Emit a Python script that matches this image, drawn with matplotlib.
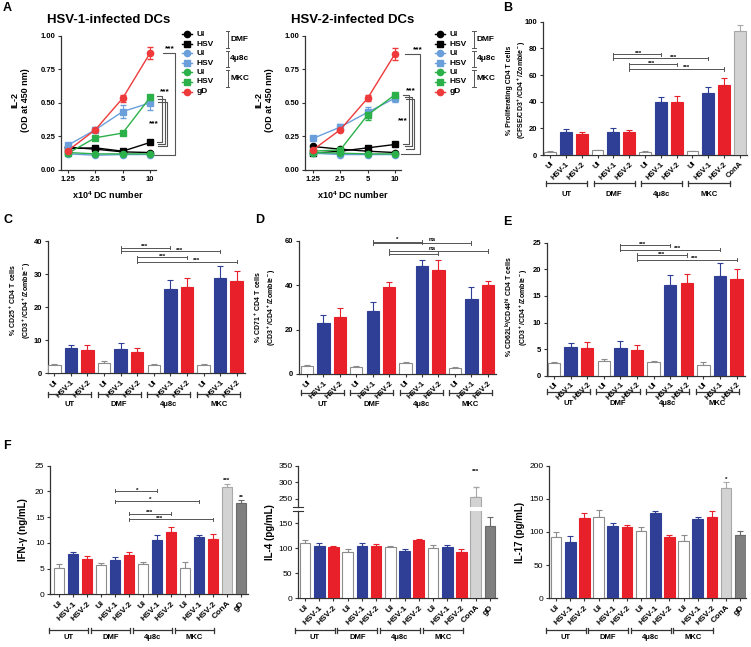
import matplotlib
matplotlib.use('Agg')
import matplotlib.pyplot as plt
import numpy as np
from matplotlib.lines import Line2D

plt.rcParams['font.family'] = ['Liberation Sans', 'DejaVu Sans']
plt.rcParams['font.weight'] = 'bold'
plt.rcParams['mathtext.fontset'] = 'custom'
plt.rcParams['mathtext.rm'] = 'Liberation Sans:bold'
plt.rcParams['mathtext.bf'] = 'Liberation Sans:bold'
plt.rcParams['mathtext.it'] = 'Liberation Sans:bold'
plt.rcParams['mathtext.default'] = 'bf'

W, H = 751, 647

# ---------------- data ----------------
doses = ['1.25', '2.5', '5', '10']

# A - HSV-1-infected DCs (IL-2, OD 450 nm)
dmf_ui_1 = [0.17, 0.155, 0.135, 0.13]
dmf_hsv_1 = [0.16, 0.165, 0.14, 0.205]
i48_ui_1 = [0.12, 0.11, 0.115, 0.115]
i48_hsv_1 = [0.185, 0.30, 0.435, 0.50]
mkc_ui_1 = [0.13, 0.12, 0.12, 0.12]
mkc_hsv_1 = [0.125, 0.24, 0.275, 0.54]
gd_1 = [0.145, 0.30, 0.535, 0.87]
i48_hsv_1_err = [0.01, 0.02, 0.05, 0.05]
gd_1_err = [0.01, 0.01, 0.025, 0.045]

# A - HSV-2-infected DCs
dmf_ui_2 = [0.175, 0.155, 0.14, 0.13]
dmf_hsv_2 = [0.125, 0.14, 0.165, 0.19]
i48_ui_2 = [0.125, 0.115, 0.115, 0.115]
i48_hsv_2 = [0.235, 0.32, 0.43, 0.535]
mkc_ui_2 = [0.13, 0.125, 0.12, 0.12]
mkc_hsv_2 = [0.14, 0.15, 0.41, 0.56]
gd_2 = [0.15, 0.30, 0.535, 0.865]
i48_hsv_2_err = [0.015, 0.02, 0.04, 0.03]
mkc_hsv_2_err = [0.005, 0.01, 0.04, 0.01]
gd_2_err = [0.01, 0.01, 0.02, 0.045]

bar_labels = ['UI', 'HSV-1', 'HSV-2'] * 4
groups = ['UT', 'DMF', '4\u03bc8c', 'MKC']

# B - % proliferating CD4 T cells (last = ConA)
prolif = [2.5, 17.5, 16, 3.5, 17.5, 17.5, 2.5, 40, 39.5, 3, 46.5, 52.5, 93]
prolif_err = [0.4, 2, 1.5, 0.6, 2.5, 1.2, 0.4, 3.5, 4.5, 0.3, 4.5, 5.5, 4.5]

# C - % CD25+ CD4 T cells
cd25 = [2.5, 7.5, 7.1, 3.0, 7.4, 6.5, 2.6, 25.4, 26.2, 2.5, 28.8, 27.9]
cd25_err = [0.4, 1.2, 1.4, 0.6, 1.7, 1.1, 0.3, 2.9, 2.5, 0.3, 3.5, 3.0]

# D - % CD71+ CD4 T cells
cd71 = [3.8, 23, 25.5, 3.2, 28.5, 39.3, 4.8, 48.7, 46.7, 2.9, 33.7, 40]
cd71_err = [0.4, 3.5, 4.0, 0.6, 4.0, 1.9, 0.4, 2.8, 4.8, 0.4, 5.3, 1.7]

# E - % CD62Llo/CD44hi CD4 T cells
cd62 = [2.3, 5.4, 5.3, 2.7, 5.3, 4.8, 2.6, 17.1, 17.5, 2.1, 18.7, 18.1]
cd62_err = [0.2, 0.8, 1.0, 0.5, 1.2, 0.9, 0.2, 1.9, 1.7, 0.4, 2.4, 2.0]

# F - cytokines (last two = ConA, gD)
ifng = [5.1, 7.8, 6.9, 5.6, 6.6, 7.6, 5.8, 10.5, 12.1, 5.2, 11.1, 10.7, 20.8, 17.7]
ifng_err = [0.7, 0.5, 0.5, 0.4, 0.6, 0.6, 0.5, 1.0, 0.9, 1.0, 0.5, 1.1, 0.7, 0.6]
il4 = [111, 105, 102, 93, 105, 104, 103, 95, 117, 101, 103, 93, 255, 145]
il4_err = [6, 5, 3, 6, 6, 5, 1, 3, 1, 5, 4, 5, 31, 17]
il17 = [93, 85, 121, 122, 109, 107, 101, 129, 92, 86, 120, 122, 167, 96]
il17_err = [7, 9, 7, 11, 4, 4, 6, 3, 3, 10, 3, 9, 8, 6]

# ---------------- styling ----------------
BLUE = '#2E3F95'
RED = '#E8202A'
LBLUE = '#6A9FDB'
GREEN = '#2BB04A'
LRED = '#EE3A3A'
AX = '#333333'

fig = plt.figure(figsize=(W / 100, H / 100), dpi=100)


def axes_px(l, t, r, b):
    ax = fig.add_axes([l / W, 1 - b / H, (r - l) / W, (b - t) / H])
    ax.px = (l, t, r, b)
    return ax


def afy(ax, py):
    l, t, r, b = ax.px
    return (b - py) / (b - t)


def ftext(x, y, s, **kw):
    fig.text(x / W, 1 - y / H, s, **kw)


def style(ax, size=5.5, bold=True):
    for s in ['top', 'right']:
        ax.spines[s].set_visible(False)
    for s in ['left', 'bottom']:
        ax.spines[s].set_color(AX)
        ax.spines[s].set_linewidth(0.9)
    ax.tick_params(length=2.5, width=0.8, color=AX, labelsize=size, pad=1.5)
    for lab in ax.get_yticklabels():
        lab.set_fontweight('bold' if bold else 'normal')


# ---------- panel A ----------
def line_panel(l, t, r, b, xl, sets, title):
    ax = axes_px(l, t, r, b)
    x = np.arange(len(doses))
    for vals, err, col, mk in sets:
        ax.errorbar(x, vals, yerr=err, color=col, marker=mk, ms=4.5, lw=1,
                    capsize=2, elinewidth=0.8, clip_on=False)
    ax.set_xlim(*xl)
    ax.set_ylim(0, 1.0)
    ax.set_yticks([0, 0.25, 0.5, 0.75, 1.0])
    ax.set_yticklabels(['0.00', '0.25', '0.50', '0.75', '1.00'])
    ax.set_xticks(x)
    ax.set_xticklabels(doses, fontweight='bold')
    style(ax, 5.5)
    ax.set_xlabel('x10$^4$ DC number', fontsize=6.5, fontweight='bold', labelpad=5)
    ax.set_title(title, fontsize=9.5, fontweight='bold', pad=9)
    return ax


def bracket_a(ax, x, y1, y2, xs1, xs2):
    ax.plot([xs1, x, x, xs2], [y1, y1, y2, y2], color='#555555', lw=0.8,
            clip_on=False)


sets1 = [(dmf_ui_1, 0.005, 'black', 'o'), (dmf_hsv_1, 0.005, 'black', 's'),
         (i48_ui_1, 0.005, LBLUE, 'o'), (i48_hsv_1, i48_hsv_1_err, LBLUE, 's'),
         (mkc_ui_1, 0.005, GREEN, 'o'), (mkc_hsv_1, 0.01, GREEN, 's'),
         (gd_1, gd_1_err, LRED, 'o')]
axA1 = line_panel(61.2, 35.7, 155.5, 170, (-0.25, 3.2), sets1, 'HSV-1-infected DCs')
bracket_a(axA1, 3.92, 0.87, 0.115, 3.48, 3.1)
bracket_a(axA1, 3.44, 0.55, 0.205, 3.25, 3.25)
bracket_a(axA1, 3.53, 0.53, 0.19, 3.3, 3.3)
bracket_a(axA1, 3.62, 0.51, 0.175, 3.3, 3.3)
axA1.text(3.72, 0.875, '***', fontsize=6, ha='center', va='bottom')
axA1.text(3.55, 0.555, '***', fontsize=6, ha='center', va='bottom')
axA1.text(3.15, 0.32, '***', fontsize=6, ha='center', va='bottom')

sets2 = [(dmf_ui_2, 0.005, 'black', 'o'), (dmf_hsv_2, 0.005, 'black', 's'),
         (i48_ui_2, 0.005, LBLUE, 'o'), (i48_hsv_2, i48_hsv_2_err, LBLUE, 's'),
         (mkc_ui_2, 0.005, GREEN, 'o'), (mkc_hsv_2, mkc_hsv_2_err, GREEN, 's'),
         (gd_2, gd_2_err, LRED, 'o')]
axA2 = line_panel(305, 35.7, 400.5, 170, (-0.29, 3.2), sets2, 'HSV-2-infected DCs')
bracket_a(axA2, 3.93, 0.865, 0.12, 3.37, 3.2)
bracket_a(axA2, 3.51, 0.56, 0.19, 3.3, 3.3)
bracket_a(axA2, 3.61, 0.545, 0.175, 3.35, 3.35)
bracket_a(axA2, 3.70, 0.53, 0.16, 3.4, 3.4)
axA2.text(3.82, 0.87, '***', fontsize=6, ha='center', va='bottom')
axA2.text(3.59, 0.565, '***', fontsize=6, ha='center', va='bottom')
axA2.text(3.27, 0.34, '***', fontsize=6, ha='center', va='bottom')

for xc in (20, 264):
    ftext(xc, 100, 'IL-2\n(OD at 450 nm)', rotation=90, ha='center', va='center',
          fontsize=6.5, fontweight='bold', linespacing=1.3)

# legends of panel A
leg_rows = [34.3, 44.3, 53.3, 63.3, 72.3, 81.7, 91.7]
leg_items = [('black', 'o', 'UI'), ('black', 's', 'HSV'), (LBLUE, 'o', 'UI'),
             (LBLUE, 's', 'HSV'), (GREEN, 'o', 'UI'), (GREEN, 's', 'HSV'),
             (LRED, 'o', 'gD')]
for xm, xb in ((186.7, 227.7), (440, 474)):
    for yy, (col, mk, lab) in zip(leg_rows, leg_items):
        fig.add_artist(Line2D([(xm - 5) / W, (xm + 5) / W], [1 - yy / H] * 2,
                              color=col, lw=1))
        fig.add_artist(Line2D([xm / W], [1 - yy / H], color=col, marker=mk, ms=4.5))
        ftext(xm + 10, yy, lab, fontsize=6, fontweight='bold', va='center')
    for (y1, y2), g in zip(((30.7, 47.5), (50.5, 67), (70, 87)), ['DMF', '4\u03bc8c', 'MKC']):
        fig.add_artist(Line2D([xb / W] * 2, [1 - y1 / H, 1 - y2 / H], color='#555555', lw=0.7))
        for yy in (y1, y2):
            fig.add_artist(Line2D([(xb - 1.5) / W, (xb + 1.5) / W], [1 - yy / H] * 2,
                                  color='#555555', lw=0.7))
        ftext(xb + 2.5, (y1 + y2) / 2, g, fontsize=6, fontweight='bold', va='center')


# ---------- bar panels ----------
def bar_panel(l, t, r, b, vals, errs, xl, ylim, yticks, bold=True, size=5.5):
    ax = axes_px(l, t, r, b)
    n = len(vals)
    x = np.arange(n)
    fc = (['white', BLUE, RED] * 4 + ['#D3D3D3', '#7F7F7F'])[:n]
    ec = (['#8C8C8C', BLUE, RED] * 4 + ['#A8A8A8', '#6A6A6A'])[:n]
    ax.bar(x, vals, 0.75, color=fc, edgecolor=ec, linewidth=0.8, zorder=3)
    for xi, v, e, c in zip(x, vals, errs, ec):
        ax.errorbar(xi, v, yerr=[[0], [e]], color=c, capsize=2, elinewidth=0.8,
                    capthick=0.8, zorder=2)
    ax.set_xlim(*xl)
    ax.set_ylim(*ylim)
    ax.set_yticks(yticks)
    ax.set_xticks(x)
    labs = (bar_labels + ['ConA', 'gD'])[:n]
    ax.set_xticklabels(labs, rotation=45, ha='right', rotation_mode='anchor',
                       fontsize=5.5, fontweight='bold')
    style(ax, size, bold)
    return ax


def group_lines(ax, y_line, y_text, lo, hi):
    tr = ax.get_xaxis_transform()
    yl = afy(ax, y_line)
    dt = 2.5 / (ax.px[3] - ax.px[1])
    for g, name in enumerate(groups):
        x1, x2 = 3 * g + lo, 3 * g + hi
        ax.plot([x1, x2], [yl, yl], transform=tr, clip_on=False, color=AX, lw=0.9)
        for xx in (x1, x2):
            ax.plot([xx, xx], [yl - dt, yl + dt], transform=tr, clip_on=False,
                    color=AX, lw=0.9)
        ax.text((x1 + x2) / 2, afy(ax, y_text), name, transform=tr, ha='center',
                va='center', fontsize=5.5, fontweight='bold')


def sig(ax, x1, x2, y, tk):
    ax.plot([x1, x2], [y, y], color='#555555', lw=0.7, clip_on=False)
    for xx in (x1, x2):
        ax.plot([xx, xx], [y - tk, y + tk], color='#555555', lw=0.7, clip_on=False)


def star(ax, x, y, s, fs=4.5):
    ax.text(x, y, s, ha='center', va='bottom', fontsize=fs)


def ylab(x, y, s, fs=5):
    ftext(x, y, s, rotation=90, ha='center', va='center', fontsize=fs,
          fontweight='bold', linespacing=1.35)


# B
axB = bar_panel(543, 21.7, 747, 155, prolif, prolif_err, (-0.45, 12.45), (0, 100),
                [0, 20, 40, 60, 80, 100])
group_lines(axB, 183.3, 195, -0.25, 2.35)
for x1, x2, y in ((4, 7, 75.5), (4, 10, 72.5), (5, 8, 68), (5, 11, 64.5)):
    sig(axB, x1, x2, y, 1.2)
star(axB, 5.6, 74.5, '***'); star(axB, 7.8, 71.5, '***')
star(axB, 6.4, 67, '***'); star(axB, 8.6, 63.5, '***')
ylab(517, 90, '% Proliferating CD4 T cells\n(CFSE/CD3$^+$/CD4$^+$/Zombie$^-$)')

# C
axC = bar_panel(48, 241, 245, 373.3, cd25, cd25_err, (-0.38, 11.5), (0, 40),
                [0, 10, 20, 30, 40])
group_lines(axC, 394, 405, -0.38, 2.2)
for x1, x2, y in ((4, 7, 38), (4, 10, 36.9), (5, 8, 35.1), (5, 11, 33.8)):
    sig(axC, x1, x2, y, 0.5)
star(axC, 5.45, 37.6, '***'); star(axC, 7.55, 36.5, '***')
star(axC, 6.55, 34.7, '***'); star(axC, 8.6, 33.4, '***')
ylab(20, 300, '% CD25$^+$ CD4 T cells\n(CD3$^+$/CD4$^+$/Zombie$^-$)')

# D
axD = bar_panel(299, 240.7, 496, 374, cd71, cd71_err, (-0.48, 11.5), (0, 60),
                [0, 20, 40, 60])
group_lines(axD, 392.7, 404.3, -0.35, 2.25)
for x1, x2, y in ((4, 7, 59.5), (4, 10, 59.0), (5, 8, 54.2), (5, 11, 55.3)):
    sig(axD, x1, x2, y, 0.8)
star(axD, 5.5, 59.4, '*'); star(axD, 7.6, 59.2, 'ns')
star(axD, 7.6, 55.5, 'ns')
ylab(265, 307, '% CD71$^+$ CD4 T cells\n(CD3$^+$/CD4$^+$/Zombie$^-$)')

# E
axE = bar_panel(547, 242.7, 745, 375.7, cd62, cd62_err, (-0.42, 11.5), (0, 25),
                [0, 5, 10, 15, 20, 25])
group_lines(axE, 391.7, 403.3, -0.45, 2.15)
for x1, x2, y in ((4, 7, 24.5), (4, 10, 23.7), (5, 8, 22.7), (5, 11, 21.8)):
    sig(axE, x1, x2, y, 0.3)
star(axE, 5.35, 24.2, '***'); star(axE, 7.45, 23.4, '***')
star(axE, 6.5, 22.4, '***'); star(axE, 8.45, 21.5, '***')
ylab(517, 307, '% CD62L$^{lo}$/CD44$^{hi}$ CD4 T cells\n(CD3$^+$/CD4$^+$/Zombie$^-$)')

# F - IFN-gamma
axF1 = bar_panel(50, 465.7, 248, 594.3, ifng, ifng_err, (-0.64, 13.5), (0, 25),
                 [0, 5, 10, 15, 20, 25], bold=False, size=6)
group_lines(axF1, 630, 637.5, -0.72, 2.08)
for x1, x2, y in ((4, 7, 20.1), (4, 10, 18.1), (5, 8, 15.7), (5, 11, 14.6)):
    sig(axF1, x1, x2, y, 0.3)
star(axF1, 5.55, 19.8, '*'); star(axF1, 6.5, 17.9, '*')
star(axF1, 6.45, 15.4, '***'); star(axF1, 7.2, 14.3, '***')
star(axF1, 12, 21.6, '***'); star(axF1, 13, 18.4, '**')
ylab(23, 530, 'IFN-\u03b3 (ng/mL)', 7)

# F - IL-4 (broken axis)
axF2 = bar_panel(298, 510.7, 497, 598.3, il4, il4_err, (-0.49, 13.5), (0, 175),
                 [0, 50, 100, 150], bold=False, size=6)
axF2t = axes_px(298, 465.7, 497, 507.3)
xs = np.arange(len(il4))
axF2t.bar(xs, il4, 0.75, color=['white', BLUE, RED] * 4 + ['#D3D3D3', '#7F7F7F'],
          edgecolor=['#8C8C8C', BLUE, RED] * 4 + ['#A8A8A8', '#6A6A6A'], linewidth=0.8, zorder=3)
axF2t.errorbar(xs[12], il4[12], yerr=[[0], [il4_err[12]]], color='#A8A8A8',
               capsize=2, elinewidth=0.8, zorder=2)
axF2t.set_xlim(-0.49, 13.5)
axF2t.set_ylim(225, 350)
axF2t.set_yticks([250, 300, 350])
style(axF2t, 6, False)
axF2t.spines['bottom'].set_visible(False)
axF2t.set_xticks([])
for a, yv in ((axF2t, 225), (axF2, 175)):
    a.plot([-0.85, -0.13], [yv, yv], color=AX, lw=0.8, clip_on=False)
star(axF2t, 12, 325, '***')
group_lines(axF2, 630, 637.5, -0.72, 2.08)
ylab(270, 532, 'IL-4 (pg/mL)', 7)

# F - IL-17
axF3 = bar_panel(549, 465.7, 746, 598.3, il17, il17_err, (-0.5, 13.4), (0, 200),
                 [0, 50, 100, 150, 200], bold=False, size=6)
group_lines(axF3, 630, 637.5, -0.72, 2.08)
star(axF3, 12, 176, '*')
ylab(520, 532, 'IL-17 (pg/mL)', 7)

# panel letters
for lt, (xx, yy) in zip('ABCDEF', [(3, 8), (503, 8), (3, 220), (255, 220), (503, 222), (3, 446)]):
    ftext(xx, yy, lt, fontsize=9, fontweight='bold', va='center')

fig.savefig('out.png', dpi=100)
